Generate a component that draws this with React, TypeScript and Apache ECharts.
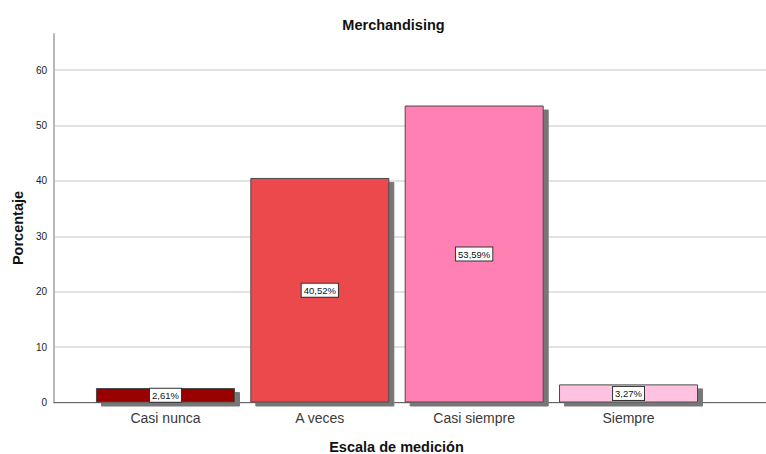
import React, { useEffect, useRef } from "react";
import * as echarts from "echarts";

const title = "Merchandising";
const categories = ["Casi nunca", "A veces", "Casi siempre", "Siempre"];
const percentages = [2.61, 40.52, 53.59, 3.27];
const barColors = ["#990000", "#eb4a4c", "#ff80b2", "#ffc2e1"];
const yTicks = { min: 0, max: 60, interval: 10 };
const yAxisTop = 66.4;
const xAxisTitle = "Escala de medición";
const yAxisTitle = "Porcentaje";

const FONT = "'Liberation Sans', Arial, sans-serif";

export default function App() {
  const ref = useRef<HTMLDivElement>(null);
  useEffect(() => {
    if (!ref.current) return;
    const chart = echarts.init(ref.current, null, { renderer: "svg" });
    const bottom = 51.5;
    chart.setOption({
      animation: false,
      backgroundColor: "#ffffff",
      textStyle: { fontFamily: FONT },
      title: {
        text: title,
        left: 388.5,
        textAlign: "center",
        top: 12,
        textStyle: { fontSize: 14.5, fontWeight: "bold", color: "#111", fontFamily: FONT },
      },
      grid: [
        { left: 54, right: 0, top: 34, bottom },
        { left: 54, right: 0, top: 70, bottom },
        { left: 88.3, right: 60.3, top: 70, bottom },
      ],
      xAxis: [
        {
          gridIndex: 0,
          type: "value",
          min: 0,
          max: 1,
          axisLine: { show: true, onZero: false, lineStyle: { color: "#666", width: 1 } },
          axisTick: { show: false },
          axisLabel: { show: false },
          splitLine: { show: false },
        },
        {
          gridIndex: 1,
          type: "value",
          min: 0,
          max: 1,
          show: false,
        },
        {
          gridIndex: 2,
          type: "category",
          data: categories,
          axisLine: { show: false },
          axisTick: { show: false },
          axisLabel: { color: "#3a3a3a", fontSize: 14, margin: 8, fontFamily: FONT },
        },
      ],
      yAxis: [
        {
          gridIndex: 0,
          type: "value",
          min: 0,
          max: yAxisTop,
          axisLine: { show: true, lineStyle: { color: "#b8b8b8", width: 2 } },
          axisTick: { show: false },
          axisLabel: { show: false },
          splitLine: { show: false },
        },
        {
          gridIndex: 1,
          type: "value",
          min: yTicks.min,
          max: yTicks.max,
          interval: yTicks.interval,
          axisLine: { show: false },
          axisTick: { show: false },
          axisLabel: { color: "#222", fontSize: 10, margin: 7, fontFamily: FONT },
          splitLine: { show: true, lineStyle: { color: "#d9d9d9", width: 1.5 } },
        },
        {
          gridIndex: 2,
          type: "value",
          min: yTicks.min,
          max: yTicks.max,
          show: false,
        },
      ],
      graphic: [
        {
          type: "text",
          x: 18,
          y: 228,
          rotation: Math.PI / 2,
          style: {
            text: yAxisTitle,
            align: "center",
            verticalAlign: "middle",
            fontSize: 14.5,
            fontWeight: "bold",
            fill: "#111",
            fontFamily: FONT,
          },
        },
        {
          type: "text",
          x: 396.5,
          y: 447,
          style: {
            text: xAxisTitle,
            align: "center",
            verticalAlign: "middle",
            fontSize: 14.5,
            fontWeight: "bold",
            fill: "#111",
            fontFamily: FONT,
          },
        },
      ],
      series: [
        {
          type: "bar",
          xAxisIndex: 2,
          yAxisIndex: 2,
          barWidth: 139,
          data: percentages.map((v, i) => ({
            value: v,
            itemStyle: { color: barColors[i] },
          })),
          itemStyle: {
            borderColor: "#4a4a4a",
            borderWidth: 1,
            shadowColor: "#777777",
            shadowOffsetX: 5,
            shadowOffsetY: 4,
            shadowBlur: 0,
          },
          label: {
            show: true,
            position: "inside",
            formatter: (p: any) => p.value.toFixed(2).replace(".", ",") + "%",
            fontSize: 9.5,
            color: "#111",
            backgroundColor: "#ffffff",
            borderColor: "#333",
            borderWidth: 1,
            padding: [2, 2, 1, 2],
            fontFamily: FONT,
          },
        },
      ],
    });
    return () => chart.dispose();
  }, []);
  return (
    <div
      ref={ref}
      style={{ position: "fixed", left: 0, top: 0, width: 766, height: 454 }}
    />
  );
}
